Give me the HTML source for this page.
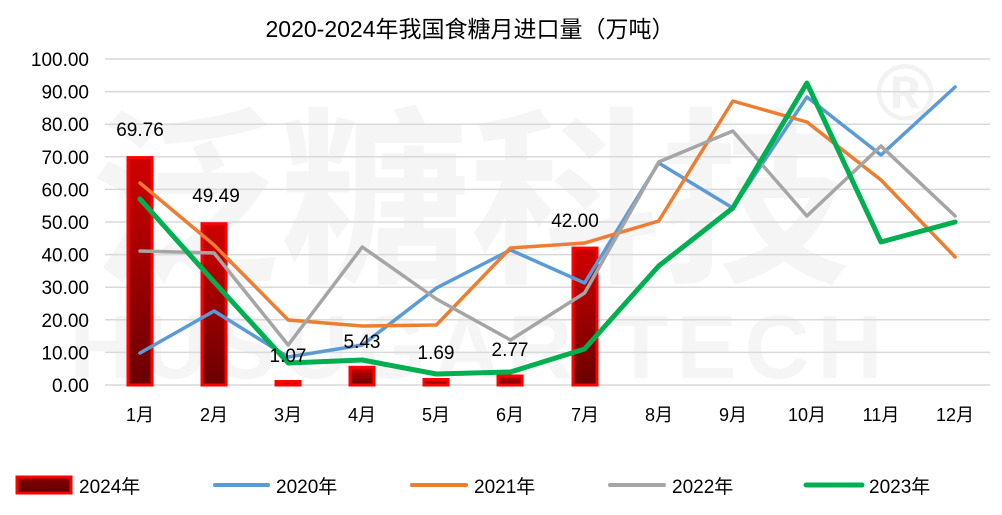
<!DOCTYPE html>
<html><head><meta charset="utf-8"><style>
body{margin:0;background:#fff}
text{font-family:"Liberation Sans","Noto Sans CJK SC",sans-serif}
</style></head><body>
<svg width="1002" height="510" viewBox="0 0 1002 510" xmlns="http://www.w3.org/2000/svg">
<defs>
<linearGradient id="bg" x1="0" y1="0" x2="0" y2="1">
<stop offset="0" stop-color="#d00000"/><stop offset="1" stop-color="#6a0000"/>
</linearGradient>
<linearGradient id="lg" x1="0" y1="0" x2="0" y2="1">
<stop offset="0" stop-color="#8a0000"/><stop offset="1" stop-color="#5a0000"/>
</linearGradient>
</defs>
<rect width="1002" height="510" fill="#fff"/>
<g font-weight="bold">
<text x="470" y="268" font-size="190" text-anchor="middle" fill="#f5f5f5">泛糖科技</text>
<text x="480" y="378" font-size="90" text-anchor="middle" fill="#f5f5f5" letter-spacing="8">HUSUGAR TECH</text>
<text x="905" y="120" font-size="80" text-anchor="middle" fill="#f2f2f2">®</text>
</g>
<text x="470" y="37" font-size="23" text-anchor="middle" fill="#000">2020-2024年我国食糖月进口量（万吨）</text>
<g stroke="#d9d9d9" stroke-width="1.5">
<line x1="105" x2="990" y1="59" y2="59"/><line x1="105" x2="990" y1="91.6" y2="91.6"/>
<line x1="105" x2="990" y1="124.2" y2="124.2"/><line x1="105" x2="990" y1="156.8" y2="156.8"/>
<line x1="105" x2="990" y1="189.4" y2="189.4"/><line x1="105" x2="990" y1="222" y2="222"/>
<line x1="105" x2="990" y1="254.6" y2="254.6"/><line x1="105" x2="990" y1="287.2" y2="287.2"/>
<line x1="105" x2="990" y1="319.8" y2="319.8"/><line x1="105" x2="990" y1="352.4" y2="352.4"/>
<line x1="105" x2="990" y1="385" y2="385"/>
</g>
<g font-size="19" text-anchor="end" fill="#000">
<text x="89" y="66">100.00</text><text x="89" y="98.6">90.00</text><text x="89" y="131.2">80.00</text>
<text x="89" y="163.8">70.00</text><text x="89" y="196.4">60.00</text><text x="89" y="229">50.00</text>
<text x="89" y="261.6">40.00</text><text x="89" y="294.2">30.00</text><text x="89" y="326.8">20.00</text>
<text x="89" y="359.4">10.00</text><text x="89" y="392">0.00</text>
</g>
<g font-size="18" text-anchor="middle" fill="#000">
<text x="140" y="421">1月</text><text x="214" y="421">2月</text><text x="288" y="421">3月</text>
<text x="362" y="421">4月</text><text x="436" y="421">5月</text><text x="510" y="421">6月</text>
<text x="585" y="421">7月</text><text x="659" y="421">8月</text><text x="733" y="421">9月</text>
<text x="807" y="421">10月</text><text x="881" y="421">11月</text><text x="955" y="421">12月</text>
</g>
<g fill="url(#bg)" stroke="#ff0000" stroke-width="3">
<rect x="128" y="157.6" width="24" height="227.4"/>
<rect x="202" y="223.7" width="24" height="161.3"/>
<rect x="276" y="381.5" width="24" height="3.5"/>
<rect x="350" y="367.3" width="24" height="17.7"/>
<rect x="424" y="379.5" width="24" height="5.5"/>
<rect x="498" y="376" width="24" height="9"/>
<rect x="573" y="248.1" width="24" height="136.9"/>
</g>
<g fill="none" stroke-linejoin="round" stroke-linecap="round">
<polyline stroke="#5b9bd5" stroke-width="3.5" points="140,353 214.1,311 288.2,357 362.3,345 436.4,288 510.5,250 584.6,283 658.7,163 732.8,208 806.9,97 881,155 955.1,87"/>
<polyline stroke="#ed7d31" stroke-width="3.5" points="140,183 214.1,245 288.2,320 362.3,326 436.4,325 510.5,248 584.6,243 658.7,221 732.8,101 806.9,122 881,180 955.1,257"/>
<polyline stroke="#a5a5a5" stroke-width="3.5" points="140,251 214.1,253 288.2,345 362.3,247 436.4,299 510.5,340 584.6,293 658.7,162 732.8,131 806.9,216 881,146 955.1,216"/>
<polyline stroke="#00b050" stroke-width="5" points="140,199 214.1,282 288.2,363 362.3,360 436.4,374 510.5,372 584.6,349 658.7,266 732.8,208 806.9,83 881,242 955.1,222"/>
</g>
<g font-size="19" text-anchor="middle" fill="#000">
<text x="140" y="136">69.76</text><text x="216" y="202">49.49</text><text x="288" y="362">1.07</text>
<text x="362" y="348">5.43</text><text x="436" y="359">1.69</text><text x="510" y="356">2.77</text>
<text x="575" y="227">42.00</text>
</g>
<g font-size="19" fill="#000">
<rect x="17" y="477" width="54" height="16" fill="url(#lg)" stroke="#ff0000" stroke-width="3"/>
<text x="79" y="493">2024年</text>
<line x1="215" x2="268" y1="485" y2="485" stroke="#5b9bd5" stroke-width="4" stroke-linecap="round"/>
<text x="276" y="493">2020年</text>
<line x1="412" x2="466" y1="485" y2="485" stroke="#ed7d31" stroke-width="4" stroke-linecap="round"/>
<text x="474" y="493">2021年</text>
<line x1="610" x2="664" y1="485" y2="485" stroke="#a5a5a5" stroke-width="4" stroke-linecap="round"/>
<text x="672" y="493">2022年</text>
<line x1="806" x2="862" y1="485" y2="485" stroke="#00b050" stroke-width="5" stroke-linecap="round"/>
<text x="869" y="493">2023年</text>
</g>
</svg>
</body></html>
